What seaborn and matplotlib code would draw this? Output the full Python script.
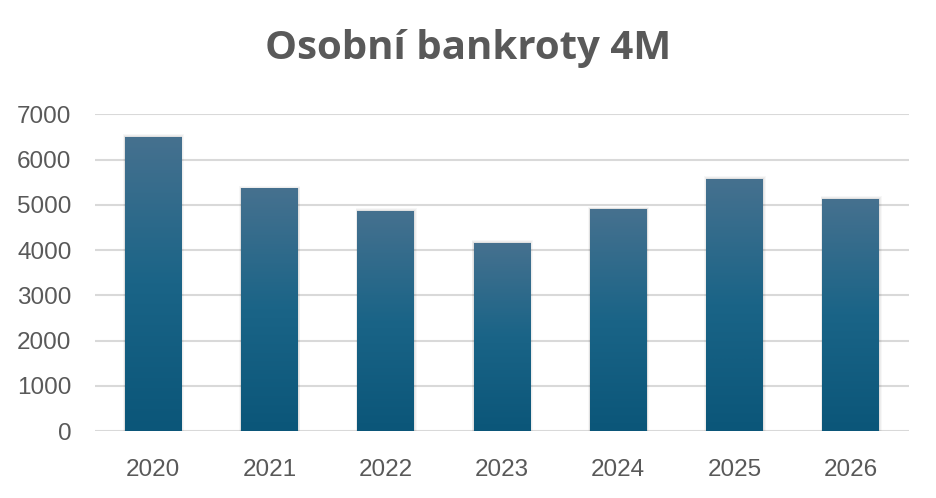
import numpy as np
import pandas as pd
import matplotlib
matplotlib.use("Agg")
import matplotlib.pyplot as plt
import seaborn as sns
from matplotlib.colors import LinearSegmentedColormap

years = ["2020", "2021", "2022", "2023", "2024", "2025", "2026"]
values = [6500, 5360, 4870, 4160, 4900, 5580, 5130]
yticks = [0, 1000, 2000, 3000, 4000, 5000, 6000, 7000]
title = "Osobní bankroty 4M"

df = pd.DataFrame({"year": years, "value": values})

sns.set_theme(style="white")
plt.rcParams["font.family"] = ["Liberation Sans", "DejaVu Sans"]

fig = plt.figure(figsize=(9.37, 4.98), dpi=100)
ax = fig.add_axes([95 / 937, 1 - 431 / 498, 814 / 937, (431 - 114.3) / 498])

sns.barplot(data=df, x="year", y="value", ax=ax, color="#1f5f82", width=0.49,
            saturation=1, zorder=3, linewidth=0, edgecolor="none")

ax.set_ylim(0, 7000)
ax.set_xlim(-0.5, len(years) - 0.5)
ax.set_yticks(yticks)
ax.set_yticklabels([str(t) for t in yticks])
ax.yaxis.grid(True, color="#d9d9d9", linewidth=1.5, zorder=0)
ax.set_axisbelow(True)
for s in ax.spines.values():
    s.set_visible(False)
ax.tick_params(axis="both", length=0, labelsize=17.5, colors="#595959")
ax.tick_params(axis="y", pad=17)
ax.tick_params(axis="x", pad=20)
ax.set_xlabel("")
ax.set_ylabel("")

cmap = LinearSegmentedColormap.from_list("g", ["#0b5679", "#1a6487", "#46718f"])
grad = np.linspace(0, 1, 256).reshape(-1, 1)
for p in list(ax.patches):
    p.set_linewidth(0)
    x0, y0 = p.get_x(), p.get_y()
    w, h = p.get_width(), p.get_height()
    for k, a in enumerate([0.05, 0.04, 0.03]):
        off = 0.012 * (k + 1)
        sh = plt.Rectangle((x0 - off * 0.4, y0), w + off * 1.0, h + 20 * (k + 1),
                           facecolor="black", alpha=a, edgecolor="none", zorder=2)
        ax.add_patch(sh)
    im = ax.imshow(grad, cmap=cmap, aspect="auto", extent=[x0, x0 + w, y0, y0 + h],
                   origin="lower", zorder=3.5, interpolation="bilinear")
    im.set_clip_path(p)
ax.set_xlim(-0.5, len(years) - 0.5)
ax.set_ylim(0, 7000)

fig.text(468 / 937, 1 - 48 / 498, title, ha="center", va="center",
         fontsize=29, fontweight="bold", color="#595959",
         family=["Open Sans", "DejaVu Sans"])

fig.savefig("out.png", dpi=100, facecolor="white")
